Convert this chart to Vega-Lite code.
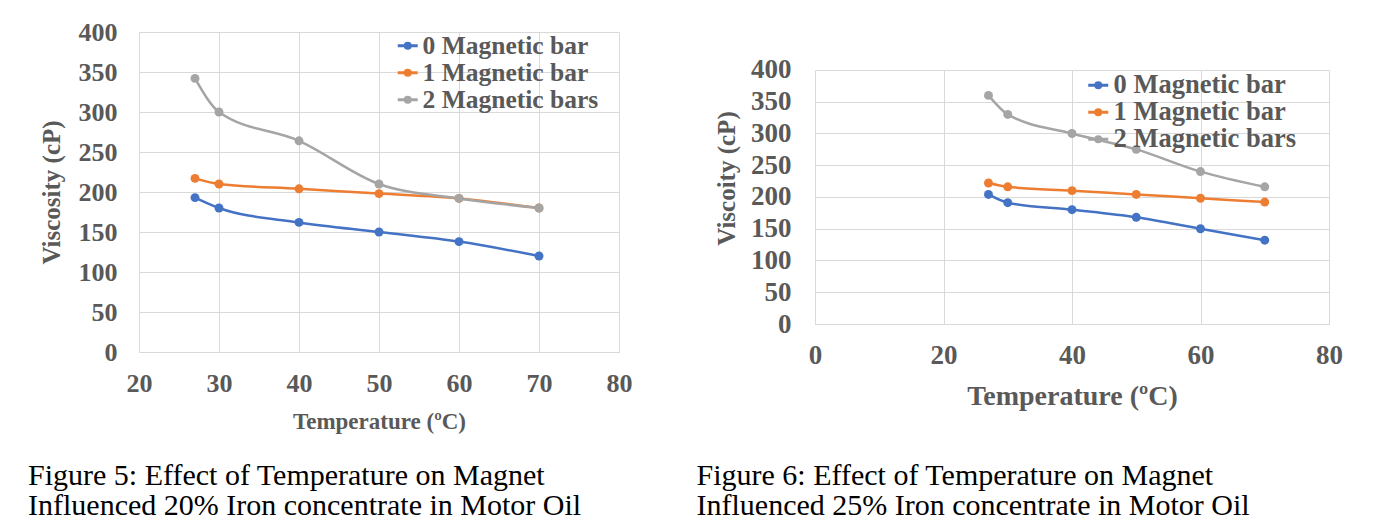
{
  "$schema": "https://vega.github.io/schema/vega-lite/v6.json",
  "background": "white",
  "padding": {"left": 28, "top": 19, "right": 5, "bottom": 2},
  "bounds": "flush",
  "spacing": 196,
  "config": {
    "view": {"stroke": null},
    "font": "Liberation Serif",
    "axis": {"labelFont": "Liberation Serif", "titleFont": "Liberation Serif", "labelFontWeight": "bold", "titleFontWeight": "bold", "labelColor": "#595959", "titleColor": "#595959", "gridColor": "#d9d9d9", "domainColor": "#d9d9d9", "ticks": false, "labelFlush": false},
    "legend": {"labelFont": "Liberation Serif", "labelFontWeight": "bold", "labelColor": "#595959", "labelLimit": 400}
  },
  "datasets": {
    "fig5": [
      {"series": "0 Magnetic bar", "temp": 27, "visc": 193},
      {"series": "0 Magnetic bar", "temp": 30, "visc": 180},
      {"series": "0 Magnetic bar", "temp": 40, "visc": 162},
      {"series": "0 Magnetic bar", "temp": 50, "visc": 150},
      {"series": "0 Magnetic bar", "temp": 60, "visc": 138},
      {"series": "0 Magnetic bar", "temp": 70, "visc": 120},
      {"series": "1 Magnetic bar", "temp": 27, "visc": 217},
      {"series": "1 Magnetic bar", "temp": 30, "visc": 210},
      {"series": "1 Magnetic bar", "temp": 40, "visc": 204},
      {"series": "1 Magnetic bar", "temp": 50, "visc": 198},
      {"series": "1 Magnetic bar", "temp": 60, "visc": 192},
      {"series": "1 Magnetic bar", "temp": 70, "visc": 180},
      {"series": "2 Magnetic bars", "temp": 27, "visc": 342},
      {"series": "2 Magnetic bars", "temp": 30, "visc": 300},
      {"series": "2 Magnetic bars", "temp": 40, "visc": 264},
      {"series": "2 Magnetic bars", "temp": 50, "visc": 210},
      {"series": "2 Magnetic bars", "temp": 60, "visc": 192},
      {"series": "2 Magnetic bars", "temp": 70, "visc": 180}
    ],
    "fig6": [
      {"series": "0 Magnetic bar", "temp": 27, "visc": 204},
      {"series": "0 Magnetic bar", "temp": 30, "visc": 191},
      {"series": "0 Magnetic bar", "temp": 40, "visc": 180},
      {"series": "0 Magnetic bar", "temp": 50, "visc": 168},
      {"series": "0 Magnetic bar", "temp": 60, "visc": 150},
      {"series": "0 Magnetic bar", "temp": 70, "visc": 132},
      {"series": "1 Magnetic bar", "temp": 27, "visc": 222},
      {"series": "1 Magnetic bar", "temp": 30, "visc": 216},
      {"series": "1 Magnetic bar", "temp": 40, "visc": 210},
      {"series": "1 Magnetic bar", "temp": 50, "visc": 204},
      {"series": "1 Magnetic bar", "temp": 60, "visc": 198},
      {"series": "1 Magnetic bar", "temp": 70, "visc": 192},
      {"series": "2 Magnetic bars", "temp": 27, "visc": 360},
      {"series": "2 Magnetic bars", "temp": 30, "visc": 330},
      {"series": "2 Magnetic bars", "temp": 40, "visc": 300},
      {"series": "2 Magnetic bars", "temp": 50, "visc": 275},
      {"series": "2 Magnetic bars", "temp": 60, "visc": 240},
      {"series": "2 Magnetic bars", "temp": 70, "visc": 216}
    ]
  },
  "hconcat": [
    {
      "width": 480,
      "height": 320,
      "data": {"name": "fig5"},
      "title": {"text": ["Figure 5: Effect of Temperature on Magnet", "Influenced 20% Iron concentrate in Motor Oil"], "orient": "bottom", "anchor": "start", "frame": "bounds", "font": "Liberation Serif", "fontSize": 30, "fontWeight": "normal", "color": "black", "lineHeight": 30, "offset": 28, "dx": -11},
      "mark": {"type": "line", "interpolate": "monotone", "strokeWidth": 2.5, "point": {"filled": true, "size": 80}},
      "encoding": {
        "x": {"field": "temp", "type": "quantitative", "scale": {"domain": [20, 80], "nice": false}, "axis": {"values": [20, 30, 40, 50, 60, 70, 80], "title": "Temperature (ºC)", "labelFontSize": 26, "titleFontSize": 23, "labelPadding": 18, "titlePadding": 14}},
        "y": {"field": "visc", "type": "quantitative", "scale": {"domain": [0, 400], "nice": false}, "axis": {"values": [0, 50, 100, 150, 200, 250, 300, 350, 400], "title": "Viscosity (cP)", "labelFontSize": 26, "titleFontSize": 25, "labelPadding": 22, "titlePadding": 14, "domain": false}},
        "color": {"field": "series", "type": "nominal", "scale": {"domain": ["0 Magnetic bar", "1 Magnetic bar", "2 Magnetic bars"], "range": ["#4472c4", "#ed7d31", "#a5a5a5"]}, "legend": {"title": null, "orient": "none", "legendX": 256, "legendY": 1, "labelFontSize": 25.5, "rowPadding": 0, "labelOffset": 2, "symbolSize": 400, "symbolStrokeWidth": 3, "symbolType": "M-1,0L1,0M-0.25,0A0.25,0.25,0,1,1,0.25,0A0.25,0.25,0,1,1,-0.25,0Z"}}
      }
    },
    {
      "width": 514,
      "height": 292,
      "data": {"name": "fig6"},
      "title": {"text": ["Figure 6: Effect of Temperature on Magnet", "Influenced 25% Iron concentrate in Motor Oil"], "orient": "bottom", "anchor": "start", "frame": "bounds", "font": "Liberation Serif", "fontSize": 30, "fontWeight": "normal", "color": "black", "lineHeight": 30, "offset": 51, "dx": -18},
      "mark": {"type": "line", "interpolate": "monotone", "strokeWidth": 2.5, "point": {"filled": true, "size": 80}},
      "encoding": {
        "x": {"field": "temp", "type": "quantitative", "scale": {"domain": [0, 80], "nice": false}, "axis": {"values": [0, 20, 40, 60, 80], "title": "Temperature (ºC)", "labelFontSize": 27, "titleFontSize": 28, "grid": false, "ticks": true, "tickSize": -254, "tickColor": "#d9d9d9", "tickWidth": 1, "labelPadding": 272, "titlePadding": 14}},
        "y": {"field": "visc", "type": "quantitative", "scale": {"domain": [0, 459.8], "nice": false}, "axis": {"values": [0, 50, 100, 150, 200, 250, 300, 350, 400], "title": "Viscoity (cP)", "labelFontSize": 27, "titleFontSize": 25, "labelPadding": 24, "titlePadding": 11, "domain": false}},
        "color": {"field": "series", "type": "nominal", "scale": {"domain": ["0 Magnetic bar", "1 Magnetic bar", "2 Magnetic bars"], "range": ["#4472c4", "#ed7d31", "#a5a5a5"]}, "legend": {"title": null, "orient": "none", "legendX": 270, "legendY": 40, "labelFontSize": 26.5, "rowPadding": 0, "labelOffset": 2, "symbolSize": 400, "symbolStrokeWidth": 3, "symbolType": "M-1,0L1,0M-0.25,0A0.25,0.25,0,1,1,0.25,0A0.25,0.25,0,1,1,-0.25,0Z"}}
      }
    }
  ],
  "resolve": {"scale": {"color": "independent"}}
}
